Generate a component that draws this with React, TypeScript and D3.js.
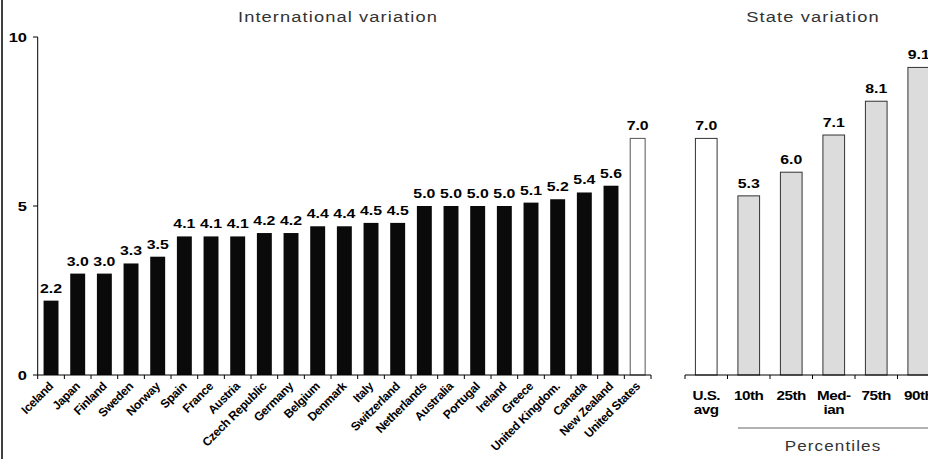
import React from "react";
import * as d3 from "d3";

const countries = ["Iceland","Japan","Finland","Sweden","Norway","Spain","France","Austria","Czech Republic","Germany","Belgium","Denmark","Italy","Switzerland","Netherlands","Australia","Portugal","Ireland","Greece","United Kingdom.","Canada","New Zealand","United States"];
const countryValues = [2.2,3.0,3.0,3.3,3.5,4.1,4.1,4.1,4.2,4.2,4.4,4.4,4.5,4.5,5.0,5.0,5.0,5.0,5.1,5.2,5.4,5.6,7.0];
const stateCats = ["U.S. avg","10th","25th","Median","75th","90th"];
const stateLabels = [["U.S.","avg"],["10th"],["25th"],["Med-","ian"],["75th"],["90th"]];
const stateValues = [7.0,5.3,6.0,7.1,8.1,9.1];
const yTicks = [0,5,10];

const W = 928, H = 459;
const SX = 1.22;

export default function App() {
  const y = d3.scaleLinear().domain([0, 10]).range([375, 37]);
  const xL = d3.scaleBand().domain(countries).range([37.7, 651]).paddingInner(0.44).paddingOuter(0.22);
  const xR = d3.scaleBand().domain(stateCats).range([685, 940]).paddingInner(0.49).paddingOuter(0.245);
  const stepL = xL.step();
  const stepR = xR.step();
  const bold = "'Liberation Sans', Arial, sans-serif";
  const fmt = d3.format(".1f");

  const stretchText = (x: number, yy: number, txt: string, props: any = {}) => (
    <text transform={`translate(${x},${yy}) scale(${SX},1)`} {...props}>{txt}</text>
  );

  return (
    <svg width={W} height={H} style={{ position: "absolute", left: 0, top: 0, background: "#fff" }} fontFamily={bold}>
      <rect x={0} y={0} width={W} height={H} fill="#fff" />
      <line x1={2} x2={2} y1={0} y2={H} stroke="#000" strokeWidth={1.5} />

      {/* Titles */}
      {stretchText(338, 22, "International variation", { textAnchor: "middle", fontSize: 15, fill: "#333", letterSpacing: 0.9 })}
      {stretchText(813, 22, "State variation", { textAnchor: "middle", fontSize: 15, fill: "#333", letterSpacing: 0.9 })}

      {/* Left y axis */}
      <line x1={37.7} x2={37.7} y1={y(10)} y2={y(0)} stroke="#000" strokeWidth={1} />
      {yTicks.map((t) => (
        <g key={t}>
          <line x1={33} x2={37.7} y1={y(t)} y2={y(t)} stroke="#000" />
          {stretchText(27, y(t) + 5, String(t), { textAnchor: "end", fontSize: 13.5, fontWeight: "bold" })}
        </g>
      ))}

      {/* Left bars */}
      {countries.map((c, i) => {
        const v = countryValues[i];
        const isUS = c === "United States";
        const bx = xL(c)!;
        return (
          <g key={c}>
            <rect x={bx} y={y(v)} width={xL.bandwidth()} height={y(0) - y(v)}
              fill={isUS ? "#fff" : "#0a0a0a"} stroke={isUS ? "#555" : "none"} strokeWidth={1} />
            {stretchText(bx + xL.bandwidth() / 2, y(v) - 8, fmt(v), { textAnchor: "middle", fontSize: 13, fontWeight: "bold" })}
          </g>
        );
      })}
      {/* Left baseline and ticks */}
      <line x1={37.7} x2={651} y1={375} y2={375} stroke="#000" />
      {d3.range(countries.length + 1).map((i) => {
        const tx = 37.7 + i * stepL;
        return <line key={i} x1={tx} x2={tx} y1={375} y2={379} stroke="#000" />;
      })}
      {countries.map((c) => {
        const cx = xL(c)! + xL.bandwidth() / 2;
        return (
          <text key={c} transform={`translate(${cx + 3},${387}) rotate(-45)`} textAnchor="end"
            fontSize={12} fontWeight="bold" letterSpacing={-0.3}>{c}</text>
        );
      })}

      {/* Right bars */}
      {stateCats.map((c, i) => {
        const v = stateValues[i];
        const bx = xR(c)!;
        return (
          <g key={c}>
            <rect x={bx} y={y(v)} width={xR.bandwidth()} height={y(0) - y(v)}
              fill={i === 0 ? "#fff" : "#dcdcdc"} stroke="#333" strokeWidth={1} />
            {stretchText(bx + xR.bandwidth() / 2, y(v) - 8, fmt(v), { textAnchor: "middle", fontSize: 13, fontWeight: "bold" })}
            {stateLabels[i].map((ln, j) =>
              <React.Fragment key={j}>
                {stretchText(bx + xR.bandwidth() / 2, 400 + j * 14, ln, { textAnchor: "middle", fontSize: 12.5, fontWeight: "bold", letterSpacing: -0.4 })}
              </React.Fragment>
            )}
          </g>
        );
      })}
      <line x1={685} x2={W} y1={375} y2={375} stroke="#000" />
      {d3.range(stateCats.length + 1).map((i) => {
        const tx = 685 + i * stepR;
        return <line key={i} x1={tx} x2={tx} y1={375} y2={379} stroke="#000" />;
      })}
      <line x1={xR("10th")!} x2={W} y1={428} y2={428} stroke="#666" strokeWidth={1.2} />
      {stretchText(833, 451, "Percentiles", { textAnchor: "middle", fontSize: 14, fill: "#333", letterSpacing: 0.9 })}
    </svg>
  );
}
